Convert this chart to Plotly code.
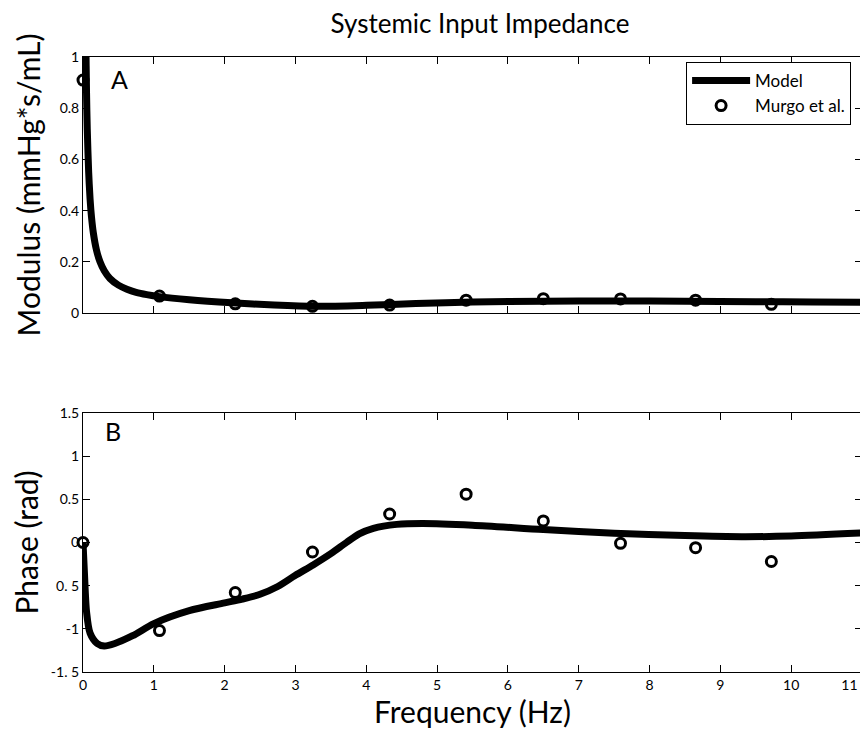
import plotly.graph_objects as go

# ---- data ----
murgo_freq = [0.0, 1.08, 2.15, 3.24, 4.33, 5.41, 6.5, 7.59, 8.65, 9.72]
murgo_modulus = [0.91, 0.066, 0.036, 0.026, 0.031, 0.05, 0.056, 0.055, 0.05, 0.034]
murgo_phase = [0.0, -1.02, -0.58, -0.11, 0.33, 0.56, 0.25, -0.01, -0.06, -0.22]

model_mod_freq = [0.035, 0.04, 0.05, 0.06, 0.08, 0.1, 0.12, 0.146, 0.19, 0.24, 0.3, 0.38,
                  0.5, 0.62, 0.75, 0.9, 1.08, 1.5, 2.1, 2.7, 3.3, 4.0, 4.7, 5.5, 6.5, 7.5,
                  8.5, 9.5, 10.3, 11.0]
model_modulus = [1.22, 1.07, 0.86, 0.72, 0.55, 0.445, 0.375, 0.313, 0.246, 0.2, 0.165,
                 0.135, 0.109, 0.093, 0.081, 0.072, 0.064, 0.052, 0.04, 0.031, 0.026, 0.03,
                 0.037, 0.043, 0.046, 0.047, 0.046, 0.044, 0.043, 0.042]

model_ph_freq = [0.0, 0.02, 0.05, 0.1, 0.2, 0.3, 0.45, 0.7, 1.0, 1.5, 2.0, 2.25, 2.5,
                 2.75, 3.0, 3.25, 3.5, 3.72, 3.9, 4.1, 4.43, 4.8, 5.5, 6.5, 7.5, 8.5,
                 9.3, 10.0, 11.0]
model_phase = [0.0, -0.35, -0.8, -1.05, -1.17, -1.2, -1.17, -1.08, -0.94, -0.79, -0.7,
               -0.655, -0.6, -0.51, -0.38, -0.26, -0.13, 0.0, 0.1, 0.165, 0.21, 0.22, 0.2,
               0.15, 0.107, 0.08, 0.067, 0.075, 0.11]

x_ticks = list(range(0, 12))
# trailing no-break spaces nudge the last label inward so it is not cut at the edge
x_ticktext = ["0", "1", "2", "3", "4", "5", "6", "7", "8", "9", "10",
              "11" + "\u00a0" * 7]
mod_ticks = [0, 0.2, 0.4, 0.6, 0.8, 1]
mod_ticktext = ["0", "0.2", "0.4", "0.6", "0.8", "1"]
ph_ticks = [-1.5, -1, -0.5, 0, 0.5, 1, 1.5]
ph_ticktext = ["-1. 5", "-1", "0. 5", "0", "0.5", "1", "1.5"]

FONT = "Lato"
# the page body adds an 8px offset
OFF = 8
W, H = 868 - OFF, 733 - OFF
PLOT_L, PLOT_R, PLOT_T, PLOT_B = 83, 862, 57, 672   # reference plot-area edges (window px)
L = PLOT_L - OFF
R = W - (PLOT_R - OFF)
T = PLOT_T - OFF
B = H - (PLOT_B - OFF)
ph_h = H - T - B


def ydom(top_px, bot_px):
    top_px -= OFF
    bot_px -= OFF
    return [1 - (bot_px - T) / ph_h, 1 - (top_px - T) / ph_h]


fig = go.Figure()

line_style = dict(color="black", width=7, shape="spline", smoothing=0.8)
marker_style = dict(symbol="circle-open", size=10, color="black",
                    line=dict(width=3, color="black"))

fig.add_trace(go.Scatter(x=model_mod_freq, y=model_modulus, mode="lines", line=line_style,
                         name="Model", xaxis="x", yaxis="y"))
fig.add_trace(go.Scatter(x=murgo_freq, y=murgo_modulus, mode="markers", marker=marker_style,
                         name="Murgo et al.", xaxis="x", yaxis="y", cliponaxis=False))
fig.add_trace(go.Scatter(x=model_ph_freq, y=model_phase, mode="lines", line=line_style,
                         name="Model", xaxis="x2", yaxis="y2", showlegend=False))
fig.add_trace(go.Scatter(x=murgo_freq, y=murgo_phase, mode="markers", marker=marker_style,
                         name="Murgo et al.", xaxis="x2", yaxis="y2", showlegend=False,
                         cliponaxis=False))

axis_common = dict(showline=True, linecolor="black", linewidth=1, mirror="ticks",
                   ticks="inside", ticklen=7, tickcolor="black", tickwidth=1,
                   showgrid=False, zeroline=False, automargin=False,
                   ticklabeloverflow="allow",
                   tickfont=dict(family=FONT, size=14, color="black"))

fig.update_layout(
    width=W, height=H,
    margin=dict(l=L, r=R, t=T, b=B),
    paper_bgcolor="white", plot_bgcolor="white",
    font=dict(family=FONT, color="black"),
    title=dict(text="Systemic Input Impedance", x=(480 - OFF) / W, xanchor="center",
               y=1 - (24 - OFF) / H, yanchor="middle",
               font=dict(family=FONT, size=26, color="black")),
    xaxis=dict(axis_common, range=[0, 11], tickvals=x_ticks, showticklabels=False,
               domain=[0, 1], anchor="y"),
    yaxis=dict(axis_common, range=[0, 1], tickvals=mod_ticks, ticktext=mod_ticktext,
               domain=ydom(57, 313), anchor="x",
               title=dict(text="Modulus (mmHg*s/mL)", font=dict(family=FONT, size=30),
                          standoff=10)),
    xaxis2=dict(axis_common, range=[0, 11], tickvals=x_ticks, ticktext=x_ticktext,
                domain=[0, 1], anchor="y2",
                title=dict(text="Frequency (Hz)", font=dict(family=FONT, size=30),
                           standoff=0)),
    yaxis2=dict(axis_common, range=[-1.5, 1.5], tickvals=ph_ticks, ticktext=ph_ticktext,
                domain=ydom(413, 672), anchor="x2",
                title=dict(text="Phase (rad)", font=dict(family=FONT, size=30),
                           standoff=10)),
    legend=dict(x=0.986, xanchor="right", y=0.992, yanchor="top",
                bgcolor="white", bordercolor="black", borderwidth=1,
                font=dict(family=FONT, size=17, color="black"),
                itemwidth=58, tracegroupgap=0),
    showlegend=True,
    annotations=[
        dict(text="A", xref="x", yref="y", x=0.51, y=0.916, showarrow=False,
             font=dict(family=FONT, size=25, color="black")),
        dict(text="B", xref="x2", yref="y2", x=0.42, y=1.295, showarrow=False,
             font=dict(family=FONT, size=25, color="black")),
    ],
)

fig.write_html("out.html")
